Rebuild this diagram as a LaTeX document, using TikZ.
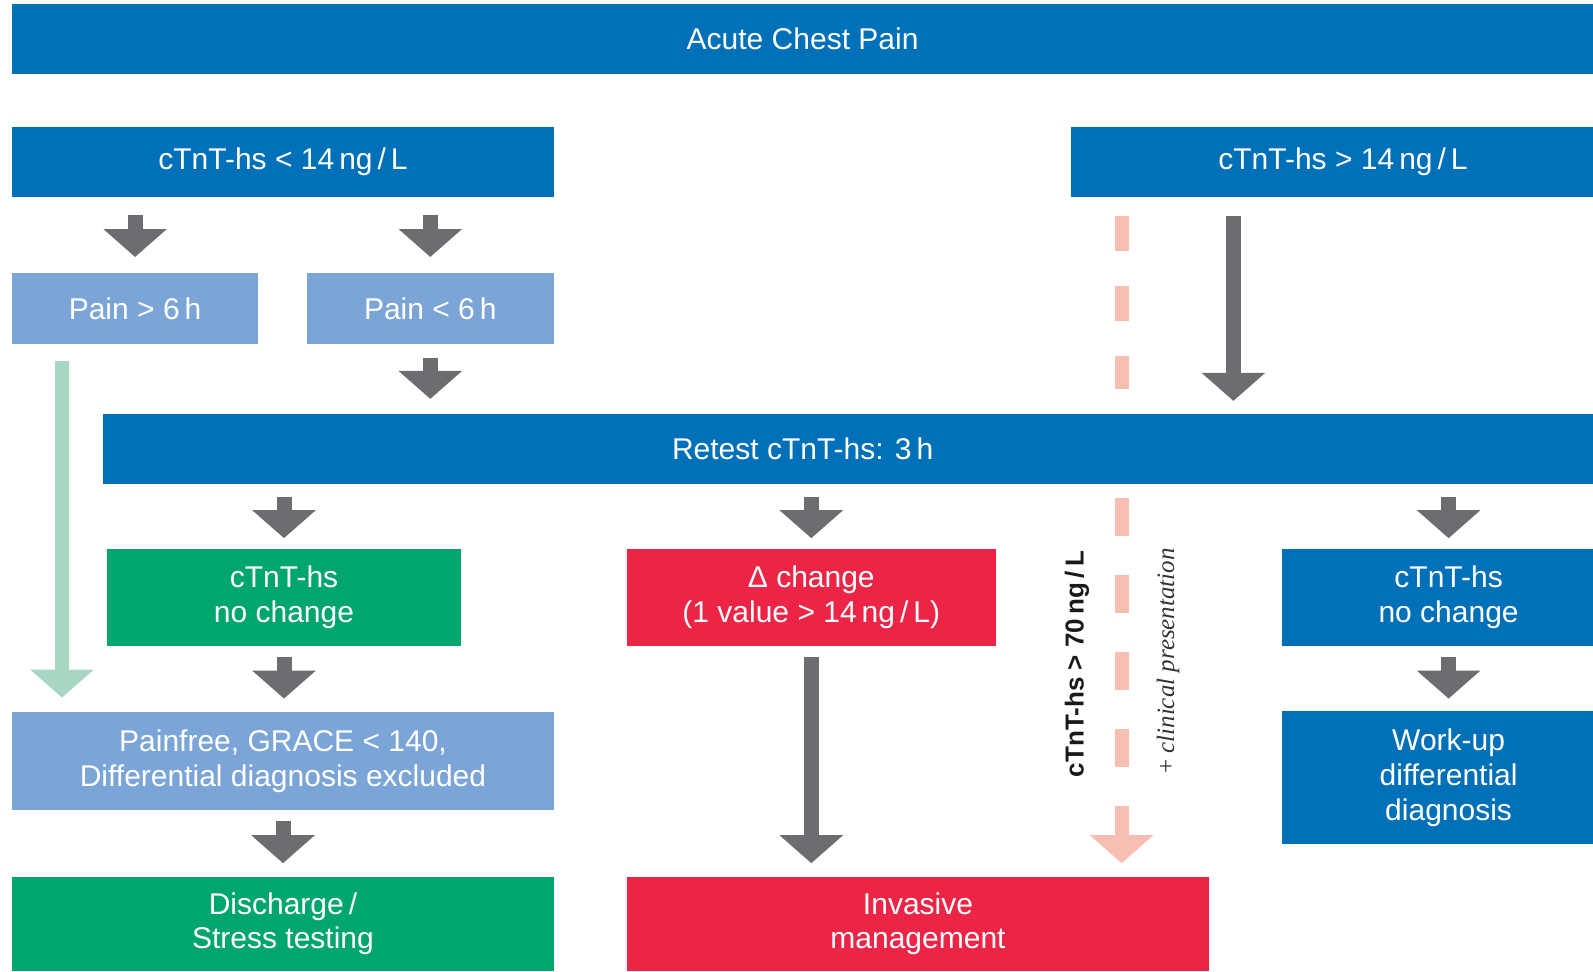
\documentclass[tikz,border=0pt]{standalone}
\usepackage{fontspec}
\setmainfont{Liberation Sans}
\newfontfamily\clinfont{Liberation Serif}
\usetikzlibrary{arrows.meta}

\definecolor{dblue}{HTML}{0070B9}
\definecolor{lblue}{HTML}{7BA5D6}
\definecolor{okgreen}{HTML}{00A66B}
\definecolor{alarmred}{HTML}{EC2546}
\definecolor{agray}{HTML}{6C6D71}
\definecolor{mint}{HTML}{A7D7C2}
\definecolor{salmon}{HTML}{F7BFB4}

\begin{document}
\begin{tikzpicture}[x=0.5pt, y=-0.5pt,
    bx/.style={rectangle, inner sep=0pt, text=white, align=center,
      font=\fontsize{15}{17.3}\selectfont},
    blk/.style={draw=agray, line width=7.5pt, -{Triangle[width=31pt,length=14pt]}},
    mintarr/.style={draw=mint, line width=7pt, -{Triangle[width=31pt,length=14pt]}},
    salmondash/.style={draw=salmon, line width=7pt},
    salmonarr/.style={draw=salmon, line width=7pt, -{Triangle[width=31pt,length=14pt]}}]
    \useasboundingbox (0,0) rectangle (1593,971);
    % x positions of the free-standing arrows
    \coordinate (mintx) at (62,0);
    \coordinate (salx) at (1121.6,0);
    \coordinate (grayx) at (1233.4,0);
    \coordinate (salmid) at (1121.6,806);
    % boxes
    \node[bx, fill=dblue, minimum width=790.4pt, minimum height=35.1pt] (chest) at (802.6,39.1) {Acute Chest Pain};
    \node[bx, fill=dblue, minimum width=270.8pt, minimum height=35pt] (low) at (283,162) {cTnT-hs < 14\,ng\,/\,L};
    \node[bx, fill=dblue, minimum width=272pt, minimum height=35pt] (high) at (1343,162) {cTnT-hs > 14\,ng\,/\,L};
    \node[bx, fill=lblue, minimum width=122.9pt, minimum height=35.5pt] (pgt) at (135.1,308.9) {Pain > 6\,h};
    \node[bx, fill=lblue, minimum width=123.4pt, minimum height=35.5pt] (plt) at (430.3,308.9) {Pain < 6\,h};
    \node[bx, fill=dblue, minimum width=745.2pt, minimum height=35pt,
      label={[bx, xshift=-22.6pt]center:{Retest cTnT-hs: 3\,h}}] (retest) at (847.8,448.5) {};
    \node[bx, fill=okgreen, minimum width=177.3pt, minimum height=48.8pt] (nochg) at (284,597.4) {cTnT-hs\\no change};
    \node[bx, fill=alarmred, minimum width=184.4pt, minimum height=48.8pt] (delta) at (811.3,597.4) {Δ change\\(1 value > 14\,ng\,/\,L)};
    \node[bx, fill=dblue, minimum width=166.4pt, minimum height=48.8pt] (nochgR) at (1448.6,597.4) {cTnT-hs\\no change};
    \node[bx, fill=lblue, minimum width=270.8pt, minimum height=48.8pt] (painfree) at (283,761) {Painfree, GRACE < 140,\\Differential diagnosis excluded};
    \node[bx, fill=dblue, minimum width=166.4pt, minimum height=66.6pt] (workup) at (1448.6,777.8) {Work-up\\differential\\diagnosis};
    \node[bx, fill=okgreen, minimum width=270.8pt, minimum height=47.1pt] (discharge) at (283,923.9) {Discharge\,/\\Stress testing};
    \node[bx, fill=alarmred, minimum width=291pt, minimum height=47.1pt] (invasive) at (918,923.9) {Invasive\\management};
    % side notes
    \node[rotate=90, inner sep=0pt, text=black!90, font=\fontsize{13}{15}\selectfont\bfseries] (thr) at (1077,664) {cTnT-hs > 70\,ng\,/\,L};
    \node[rotate=90, inner sep=0pt, text=black!80, font=\fontsize{12.5}{15}\selectfont\clinfont] (clin) at (1168,661) {+ \textit{clinical presentation}};
    % arrows
    \draw[blk, shorten <=9pt, shorten >=8pt] (low.south -| pgt) -- (pgt.north);
    \draw[blk, shorten <=9pt, shorten >=8pt] (low.south -| plt) -- (plt.north);
    \draw[blk, shorten <=6.6pt, shorten >=7.1pt] (plt.south) -- (retest.north -| plt);
    \draw[mintarr, shorten <=8.2pt, shorten >=7.1pt] (pgt.south -| mintx) -- (painfree.north -| mintx);
    \draw[blk, shorten <=9.2pt, shorten >=6.1pt] (high.south -| grayx) -- (retest.north -| grayx);
    \draw[salmondash, dash pattern=on 17.5pt off 17.5pt, shorten <=9.2pt, shorten >=12.2pt] (high.south -| salx) -- (retest.north -| salx);
    \draw[blk, shorten <=6.6pt, shorten >=5pt] (retest.south -| nochg) -- (nochg.north);
    \draw[blk, shorten <=6.6pt, shorten >=5pt] (retest.south -| delta) -- (delta.north);
    \draw[blk, shorten <=6.6pt, shorten >=5pt] (retest.south -| nochgR) -- (nochgR.north);
    \draw[blk, shorten <=5pt, shorten >=6.6pt] (nochg.south) -- (painfree.north -| nochg);
    \draw[blk, shorten <=5pt, shorten >=6.1pt] (nochgR.south) -- (workup.north);
    \draw[blk, shorten <=5.6pt, shorten >=6.6pt] (painfree.south) -- (discharge.north);
    \draw[blk, shorten <=5pt, shorten >=6.6pt] (delta.south) -- (invasive.north -| delta);
    \draw[salmondash, dash pattern=on 19pt off 19.5pt, shorten <=7.2pt, shorten >=19.5pt] (retest.south -| salx) -- (salmid);
    \draw[salmonarr, shorten >=6.6pt] (salmid) -- (invasive.north -| salx);
\end{tikzpicture}
\end{document}
